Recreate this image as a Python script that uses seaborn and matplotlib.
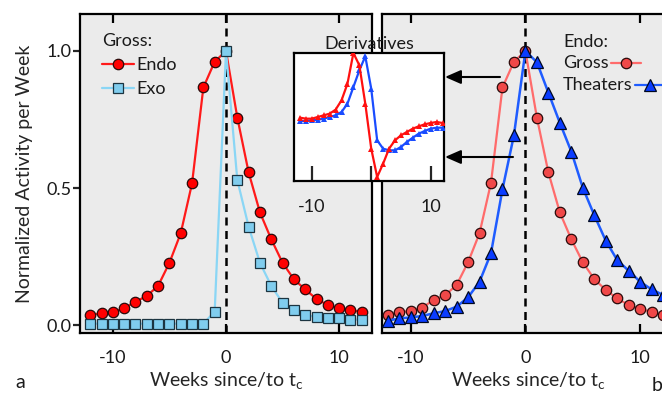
import matplotlib
matplotlib.use('Agg')
import matplotlib.pyplot as plt
import seaborn as sns
import pandas as pd
from matplotlib.lines import Line2D

sns.set_style('ticks')
plt.rcParams['font.family'] = ['Lato', 'DejaVu Sans']
plt.rcParams['mathtext.fontset'] = 'custom'
plt.rcParams['mathtext.rm'] = 'Lato'
plt.rcParams['mathtext.it'] = 'Lato:italic'
plt.rcParams['text.color'] = '#1a1a1a'

# ---------------- data ----------------
weeks = list(range(-12, 13))
# panel a: gross activity
endo_gross = [0.036, 0.043, 0.047, 0.061, 0.085, 0.106, 0.143, 0.227, 0.335, 0.517,
              0.867, 0.961, 1.000, 0.757, 0.557, 0.411, 0.313, 0.227, 0.167, 0.130,
              0.095, 0.073, 0.061, 0.055, 0.047]
exo_gross = [0.005, 0.005, 0.005, 0.005, 0.005, 0.005, 0.005, 0.005, 0.005, 0.005,
             0.005, 0.049, 1.000, 0.529, 0.359, 0.227, 0.143, 0.081, 0.055, 0.036,
             0.030, 0.024, 0.024, 0.020, 0.020]
# panel b: endo gross vs theaters
endo_gross_b = [0.036, 0.047, 0.051, 0.064, 0.091, 0.109, 0.146, 0.229, 0.335, 0.519,
                0.867, 0.961, 1.000, 0.757, 0.557, 0.411, 0.313, 0.229, 0.168, 0.128,
                0.097, 0.073, 0.058, 0.049, 0.036]
endo_theaters = [0.016, 0.024, 0.028, 0.033, 0.043, 0.051, 0.067, 0.101, 0.158, 0.262,
                 0.495, 0.693, 1.000, 0.959, 0.848, 0.738, 0.633, 0.501, 0.401, 0.308,
                 0.237, 0.198, 0.158, 0.130, 0.110]
# inset: derivatives (arbitrary units)
deriv_gross = [0.03, 0.00, 0.00, 0.05, 0.10, 0.15, 0.27, 0.55, 1.05, 1.97,
               1.60, 0.45, -0.90, -1.75, -1.35, -0.90, -0.65, -0.50, -0.40, -0.30,
               -0.23, -0.17, -0.13, -0.10, -0.13]
deriv_theaters = [-0.07, -0.07, -0.05, -0.03, 0.00, 0.05, 0.10, 0.20, 0.45, 0.95,
                  1.45, 1.87, 0.90, -0.65, -0.90, -0.95, -0.95, -0.85, -0.70, -0.57,
                  -0.45, -0.37, -0.30, -0.27, -0.27]
x_ticks = [-10, 0, 10]
x_ticklabels = ['-10', '0', '10']
inset_ticklabels = ['-10', '', '10']
y_ticks = [0.0, 0.5, 1.0]
y_ticklabels = ['0.0', '0.5', '1.0']

df_a = pd.DataFrame({'week': weeks, 'endo': endo_gross, 'exo': exo_gross})
df_b = pd.DataFrame({'week': weeks, 'gross': endo_gross_b, 'theaters': endo_theaters})
df_i = pd.DataFrame({'week': weeks, 'gross': deriv_gross, 'theaters': deriv_theaters})

# ---------------- styles ----------------
C_ENDO_L, C_ENDO_F = '#ff1a1a', '#ff0000'
C_EXO_L, C_EXO_F = '#8ad6f5', '#80cdee'
C_GR_L, C_GR_F = '#ff6b6b', '#f04848'
C_TH_L, C_TH_F = '#1f5cff', '#0a3cff'
EDGE = '#2a0a0a'
BG = '#ebebeb'
FS = 13
XLAB = r'Weeks since/to $\mathregular{t_c}$'

W, H = 662, 394
fig = plt.figure(figsize=(W / 100, H / 100), dpi=100)


def px(x0, y0, x1, y1):
    return [x0 / W, 1 - y1 / H, (x1 - x0) / W, (y1 - y0) / H]


axa = fig.add_axes(px(80, 14, 372, 333))
axb = fig.add_axes(px(382, 14, 674, 333))
axi = fig.add_axes(px(294, 53, 444, 181))

# panel a
sns.lineplot(data=df_a, x='week', y='endo', ax=axa, color=C_ENDO_L, lw=1.6,
             marker='o', markersize=7.5, markerfacecolor=C_ENDO_F,
             markeredgecolor=EDGE, markeredgewidth=0.9, zorder=3)
sns.lineplot(data=df_a, x='week', y='exo', ax=axa, color=C_EXO_L, lw=1.6,
             marker='s', markersize=7, markerfacecolor=C_EXO_F,
             markeredgecolor='#1c3440', markeredgewidth=0.9, zorder=4)

# panel b
sns.lineplot(data=df_b, x='week', y='gross', ax=axb, color=C_GR_L, lw=1.6,
             marker='o', markersize=7.5, markerfacecolor=C_GR_F,
             markeredgecolor=EDGE, markeredgewidth=0.9, zorder=3)
sns.lineplot(data=df_b, x='week', y='theaters', ax=axb, color=C_TH_L, lw=1.8,
             marker='^', markersize=8.5, markerfacecolor=C_TH_F,
             markeredgecolor='#000820', markeredgewidth=0.9, zorder=4)

for ax in (axa, axb):
    ax.set_facecolor(BG)
    for s in ax.spines.values():
        s.set_color('black')
        s.set_linewidth(1.6)
    ax.set_ylim(-0.029, 1.135)
    ax.set_xticks(x_ticks)
    ax.set_xticklabels(x_ticklabels)
    ax.tick_params(axis='x', direction='in', top=True, bottom=True, length=6.5,
                   width=1.6, pad=12, labelsize=FS, colors='black',
                   labelcolor='#1a1a1a')
    ax.axvline(0, color='black', lw=1.8, ls=(0, (3.2, 2.2)), zorder=1)
    ax.set_xlabel(XLAB, fontsize=FS + 1, labelpad=3)

axa.set_xlim(-12.9, 12.9)
axb.set_xlim(-12.5, 12.95)
axa.set_yticks(y_ticks)
axa.set_yticklabels(y_ticklabels)
axa.tick_params(axis='y', direction='out', length=5, width=1.6, pad=1, labelsize=FS,
                labelcolor='#1a1a1a')
axb.set_yticks([])
axa.set_ylabel('Normalized Activity per Week', fontsize=FS + 1, labelpad=10)
axb.set_ylabel('')

# legend a
h_endo = Line2D([], [], color=C_ENDO_L, lw=1.6, marker='o', markersize=7.5,
                markerfacecolor=C_ENDO_F, markeredgecolor=EDGE, markeredgewidth=0.9)
h_exo = Line2D([], [], color=C_EXO_L, lw=1.6, marker='s', markersize=7,
               markerfacecolor=C_EXO_F, markeredgecolor='#1c3440', markeredgewidth=0.9)
leg = axa.legend([h_endo, h_exo], ['Endo', 'Exo'], title='Gross:', loc='upper left',
                 bbox_to_anchor=((102 - 80) / 292, (333 - 33) / 319), frameon=False,
                 alignment='left', handlelength=1.75, handletextpad=0.15,
                 labelspacing=0.45, borderpad=0, borderaxespad=0, fontsize=FS,
                 title_fontsize=FS)

# legend b (text first, key after text)
fig.text(563 / W, 1 - 42 / H, 'Endo:', fontsize=FS, ha='left', va='center')
t_g = fig.text(563 / W, 1 - 63 / H, 'Gross', fontsize=FS, ha='left', va='center')
t_t = fig.text(563 / W, 1 - 85 / H, 'Theaters', fontsize=FS, ha='left', va='center')
fig.canvas.draw()
r = fig.canvas.get_renderer()
for t, yy, lc, fc, mk, ms, ec in ((t_g, 63, C_GR_L, C_GR_F, 'o', 7.5, EDGE),
                                  (t_t, 85, C_TH_L, C_TH_F, '^', 8.5, '#000820')):
    x0 = t.get_window_extent(r).x1 + 2
    x1 = x0 + 30
    fig.add_artist(Line2D([x0 / W, x1 / W], [1 - yy / H, 1 - yy / H], color=lc,
                          lw=1.6, transform=fig.transFigure))
    fig.add_artist(Line2D([(x0 + x1) / 2 / W], [1 - yy / H], color=lc, lw=0,
                          marker=mk, markersize=ms, markerfacecolor=fc,
                          markeredgecolor=ec, markeredgewidth=0.9,
                          transform=fig.transFigure))

# inset
sns.lineplot(data=df_i, x='week', y='theaters', ax=axi, color='#1a4cff', lw=1.6,
             marker='^', markersize=3.8, markeredgewidth=0, zorder=3)
sns.lineplot(data=df_i, x='week', y='gross', ax=axi, color='#ff1010', lw=1.6,
             marker='^', markersize=3.8, markeredgewidth=0, zorder=4)
axi.set_facecolor('white')
for s in axi.spines.values():
    s.set_color('black')
    s.set_linewidth(1.6)
axi.set_xlim(-13, 12.25)
axi.set_ylim(-1.87, 1.97)
axi.set_xticks(x_ticks)
axi.set_xticklabels(inset_ticklabels)
axi.set_yticks([])
axi.set_xlabel('')
axi.set_ylabel('')
axi.tick_params(axis='x', direction='in', length=11, width=1.6, pad=13,
                labelsize=FS, labelcolor='#1a1a1a')
axi.set_title('Derivatives', fontsize=FS, pad=3)

# arrows to inset
for (xt, yy) in ((500, 77), (513, 157)):
    axi.annotate('', xy=(445, H - yy), xytext=(xt, H - yy),
                 xycoords='figure pixels', textcoords='figure pixels',
                 annotation_clip=False,
                 arrowprops=dict(arrowstyle='-|>,head_length=0.8,head_width=0.35',
                                 color='black', lw=1.5, mutation_scale=12,
                                 shrinkA=0, shrinkB=0))

fig.text(20 / W, 1 - 383 / H, 'a', fontsize=FS + 1, ha='center', va='center')
fig.text(657 / W, 1 - 377 / H, 'b', fontsize=FS + 1, ha='center', va='top')

fig.savefig('out.png', dpi=100)
